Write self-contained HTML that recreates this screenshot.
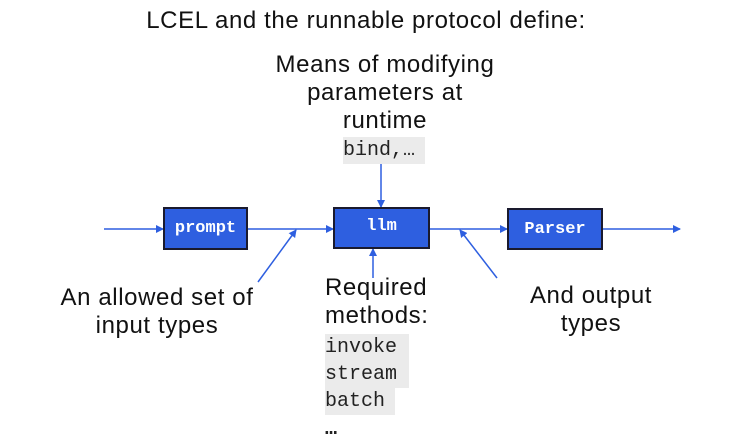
<!DOCTYPE html>
<html><head><style>
body{margin:0;width:732px;height:445px;background:#fff;position:relative;overflow:hidden;font-family:"Liberation Sans",sans-serif;color:#111}
.t{position:absolute;font-size:24px;letter-spacing:0.6px;line-height:28px;text-align:center;white-space:nowrap}
.m{position:absolute;font-family:"Liberation Mono",monospace;font-size:20px;line-height:27px;background:#ebebeb;color:#222;white-space:nowrap}
.b{position:absolute;background:#2e5fe0;border:2px solid #1a1a2e;color:#fff;font-family:"Liberation Mono",monospace;font-weight:bold;font-size:17px;display:flex;align-items:center;justify-content:center;box-sizing:border-box}
</style></head><body>
<div class="t" style="left:0;width:732px;top:7px">LCEL and the runnable protocol define:</div>
<div class="t" style="left:235px;width:300px;top:51px">Means of modifying<br>parameters at<br>runtime</div>
<div class="m" style="left:343px;top:137px;width:82px">bind,…</div>
<div class="t" style="left:27px;width:260px;top:284px">An allowed set of<br>input types</div>
<div class="t" style="left:491px;width:200px;top:282px">And output<br>types</div>
<div class="t" style="left:325px;top:274px;text-align:left">Required<br>methods:</div>
<div class="m" style="left:325px;top:334px;width:84px">invoke</div>
<div class="m" style="left:325px;top:361px;width:84px">stream</div>
<div class="m" style="left:325px;top:388px;width:70px">batch</div>
<div class="m" style="left:325px;top:416px;width:20px;background:none;font-weight:bold">…</div>
<svg width="732" height="445" style="position:absolute;left:0;top:0">
<defs><marker id="a" markerWidth="8" markerHeight="8" refX="7" refY="4" orient="auto" markerUnits="userSpaceOnUse"><path d="M0,0L8,4L0,8z" fill="#2e5fe0"/></marker></defs>
<g stroke="#2e5fe0" stroke-width="1.5" fill="none" marker-end="url(#a)">
<line x1="104" y1="229" x2="163" y2="229"/>
<line x1="248" y1="229" x2="333" y2="229"/>
<line x1="430" y1="229" x2="507" y2="229"/>
<line x1="603" y1="229" x2="680" y2="229"/>
<line x1="381" y1="164" x2="381" y2="207"/>
<line x1="373" y1="278" x2="373" y2="249"/>
<line x1="258" y1="282" x2="296" y2="230"/>
<line x1="497" y1="278" x2="460" y2="230"/>
</g></svg>
<div class="b" style="left:163px;top:207px;width:85px;height:43px">prompt</div>
<div class="b" style="left:333px;top:207px;width:97px;height:42px;align-items:flex-start;padding-top:8px">llm</div>
<div class="b" style="left:507px;top:208px;width:96px;height:42px">Parser</div>
</body></html>
